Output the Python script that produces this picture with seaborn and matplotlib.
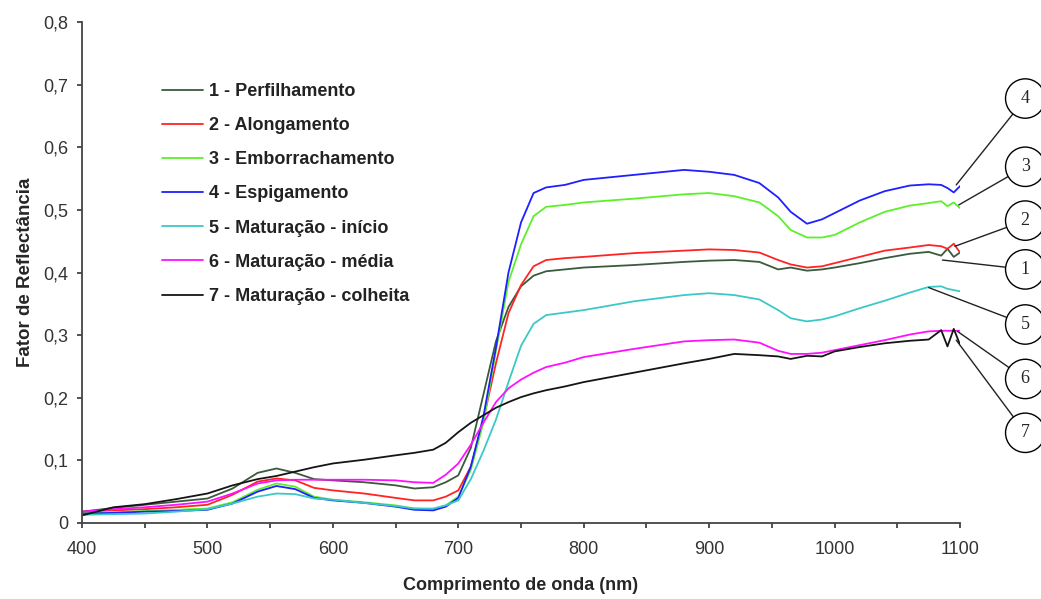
import numpy as np
import pandas as pd
import matplotlib
matplotlib.use("Agg")
import matplotlib.pyplot as plt
import seaborn as sns

# wavelength grid (nm) shared by every curve
wavelength = [400, 425, 450, 475, 500, 520, 540, 555, 570, 585, 600, 625, 650, 665, 680,
              690, 700, 710, 720, 730, 740, 750, 760, 770, 785, 800, 840, 880, 900, 920,
              940, 955, 965, 978, 990, 1000, 1020, 1040, 1060, 1075, 1085, 1090, 1095, 1100]

perfilhamento = [0.018, 0.024, 0.029, 0.034, 0.039, 0.055, 0.080, 0.087, 0.080, 0.070, 0.068,
                 0.065, 0.060, 0.055, 0.057, 0.065, 0.076, 0.120, 0.205, 0.290, 0.345, 0.378,
                 0.395, 0.402, 0.405, 0.408, 0.412, 0.417, 0.419, 0.420, 0.417, 0.405, 0.408,
                 0.403, 0.405, 0.408, 0.415, 0.423, 0.430, 0.433, 0.427, 0.438, 0.425, 0.432]
alongamento = [0.018, 0.020, 0.022, 0.025, 0.029, 0.045, 0.066, 0.071, 0.068, 0.056, 0.052,
               0.047, 0.040, 0.036, 0.036, 0.042, 0.052, 0.090, 0.165, 0.255, 0.335, 0.380,
               0.410, 0.420, 0.423, 0.425, 0.431, 0.435, 0.437, 0.436, 0.432, 0.420, 0.413,
               0.408, 0.410, 0.415, 0.425, 0.435, 0.440, 0.444, 0.442, 0.438, 0.446, 0.432]
emborrachamento = [0.016, 0.017, 0.019, 0.021, 0.023, 0.033, 0.053, 0.063, 0.058, 0.042, 0.037,
                   0.033, 0.028, 0.023, 0.022, 0.028, 0.042, 0.085, 0.160, 0.275, 0.385, 0.445,
                   0.490, 0.505, 0.508, 0.512, 0.518, 0.525, 0.527, 0.522, 0.512, 0.490, 0.468,
                   0.456, 0.456, 0.460, 0.480, 0.497, 0.507, 0.511, 0.514, 0.506, 0.512, 0.503]
espigamento = [0.015, 0.016, 0.018, 0.019, 0.021, 0.031, 0.050, 0.059, 0.054, 0.040, 0.036,
               0.032, 0.026, 0.021, 0.020, 0.026, 0.040, 0.090, 0.170, 0.280, 0.400, 0.480,
               0.527, 0.536, 0.540, 0.548, 0.556, 0.564, 0.561, 0.556, 0.543, 0.520, 0.497,
               0.478, 0.485, 0.495, 0.515, 0.530, 0.539, 0.541, 0.540, 0.535, 0.528, 0.538]
maturacao_inicio = [0.013, 0.014, 0.015, 0.018, 0.022, 0.031, 0.042, 0.047, 0.046, 0.039, 0.037,
                    0.032, 0.027, 0.023, 0.023, 0.028, 0.036, 0.070, 0.115, 0.165, 0.225, 0.283,
                    0.318, 0.332, 0.336, 0.340, 0.354, 0.364, 0.367, 0.364, 0.357, 0.340, 0.327,
                    0.322, 0.325, 0.330, 0.343, 0.355, 0.368, 0.377, 0.378, 0.374, 0.372, 0.370]
maturacao_media = [0.018, 0.022, 0.025, 0.029, 0.034, 0.047, 0.063, 0.068, 0.069, 0.069, 0.069,
                   0.069, 0.068, 0.065, 0.064, 0.077, 0.095, 0.125, 0.160, 0.193, 0.215, 0.229,
                   0.240, 0.249, 0.256, 0.265, 0.278, 0.290, 0.292, 0.293, 0.288, 0.275, 0.270,
                   0.270, 0.272, 0.276, 0.284, 0.292, 0.301, 0.306, 0.307, 0.307, 0.307, 0.307]
maturacao_colheita = [0.012, 0.025, 0.030, 0.038, 0.047, 0.060, 0.070, 0.075, 0.082, 0.089, 0.095,
                      0.101, 0.108, 0.112, 0.117, 0.128, 0.145, 0.160, 0.172, 0.184, 0.193, 0.201,
                      0.207, 0.212, 0.218, 0.225, 0.240, 0.255, 0.262, 0.270, 0.268, 0.266, 0.262,
                      0.267, 0.266, 0.274, 0.281, 0.287, 0.291, 0.293, 0.308, 0.282, 0.310, 0.285]

series_names = ["1 - Perfilhamento", "2 - Alongamento", "3 - Emborrachamento", "4 - Espigamento",
                "5 - Maturação - início", "6 - Maturação - média", "7 - Maturação - colheita"]
series_values = [perfilhamento, alongamento, emborrachamento, espigamento,
                 maturacao_inicio, maturacao_media, maturacao_colheita]
colors = ["#3b5a3b", "#ff2424", "#5cf02a", "#1f1fff", "#3cc8c8", "#ff10ff", "#151515"]

x_ticks = list(range(400, 1101, 50))
x_tick_labels = [str(t) if t % 100 == 0 else "" for t in x_ticks]
y_ticks = [0.0, 0.1, 0.2, 0.3, 0.4, 0.5, 0.6, 0.7, 0.8]
y_tick_labels = ["0", "0,1", "0,2", "0,3", "0,4", "0,5", "0,6", "0,7", "0,8"]

# circled callouts: label, curve point it points to, circle y position
callout_labels = ["4", "3", "2", "1", "5", "6", "7"]
callout_x = [1097, 1099, 1096, 1086, 1075, 1098, 1097]
callout_y = [0.540, 0.508, 0.442, 0.420, 0.376, 0.306, 0.292]
circle_y = [0.678, 0.569, 0.483, 0.405, 0.317, 0.230, 0.144]

sns.set_style("ticks")
plt.rcParams["font.family"] = ["Liberation Sans", "DejaVu Sans"]

rows = []
for name, vals in zip(series_names, series_values):
    for w, v in zip(wavelength, vals):
        rows.append({"wl": w, "refl": v, "serie": name})
df = pd.DataFrame(rows)

fig = plt.figure(figsize=(10.41, 5.99), dpi=100)
ax = fig.add_axes([0.0788, 0.127, 0.8434, 0.836])

sns.lineplot(data=df, x="wl", y="refl", hue="serie", hue_order=series_names,
             palette=colors, estimator=None, sort=False, lw=1.3, ax=ax)

ax.set_xlim(400, 1100)
ax.set_ylim(0, 0.8)
ax.set_xticks(x_ticks)
ax.set_xticklabels(x_tick_labels)
ax.set_yticks(y_ticks)
ax.set_yticklabels(y_tick_labels)
ax.tick_params(axis="both", labelsize=13, colors="#333333", length=3.8, width=1.2)
ax.tick_params(axis="x", pad=9)
ax.tick_params(axis="y", pad=6)

for s in ["top", "right"]:
    ax.spines[s].set_visible(False)
for s in ["left", "bottom"]:
    ax.spines[s].set_color("#444444")
    ax.spines[s].set_linewidth(1.3)

ax.set_xlabel("Comprimento de onda (nm)", fontsize=13, fontweight="bold", labelpad=14)
ax.set_ylabel("Fator de Reflectância", fontsize=13.5, fontweight="bold", labelpad=7)

handles, labels = ax.get_legend_handles_labels()
leg = ax.legend(handles, labels, loc="upper left", bbox_to_anchor=(0.083, 0.893),
                frameon=False, fontsize=13, handlelength=2.27, handletextpad=0.33,
                labelspacing=0.95, borderaxespad=0)
for t in leg.get_texts():
    t.set_fontweight("bold")
    t.set_color("#222222")

for lab, px, py, cy in zip(callout_labels, callout_x, callout_y, circle_y):
    ax.annotate(lab, xy=(px, py), xytext=(1152, cy), textcoords="data",
                ha="center", va="center", fontsize=13, family="Liberation Serif",
                annotation_clip=False,
                bbox=dict(boxstyle="circle,pad=0.62", fc="white", ec="black", lw=1),
                arrowprops=dict(arrowstyle="-", color="#222222", lw=1,
                                shrinkA=0, shrinkB=0))

fig.savefig("out.png", dpi=100)
